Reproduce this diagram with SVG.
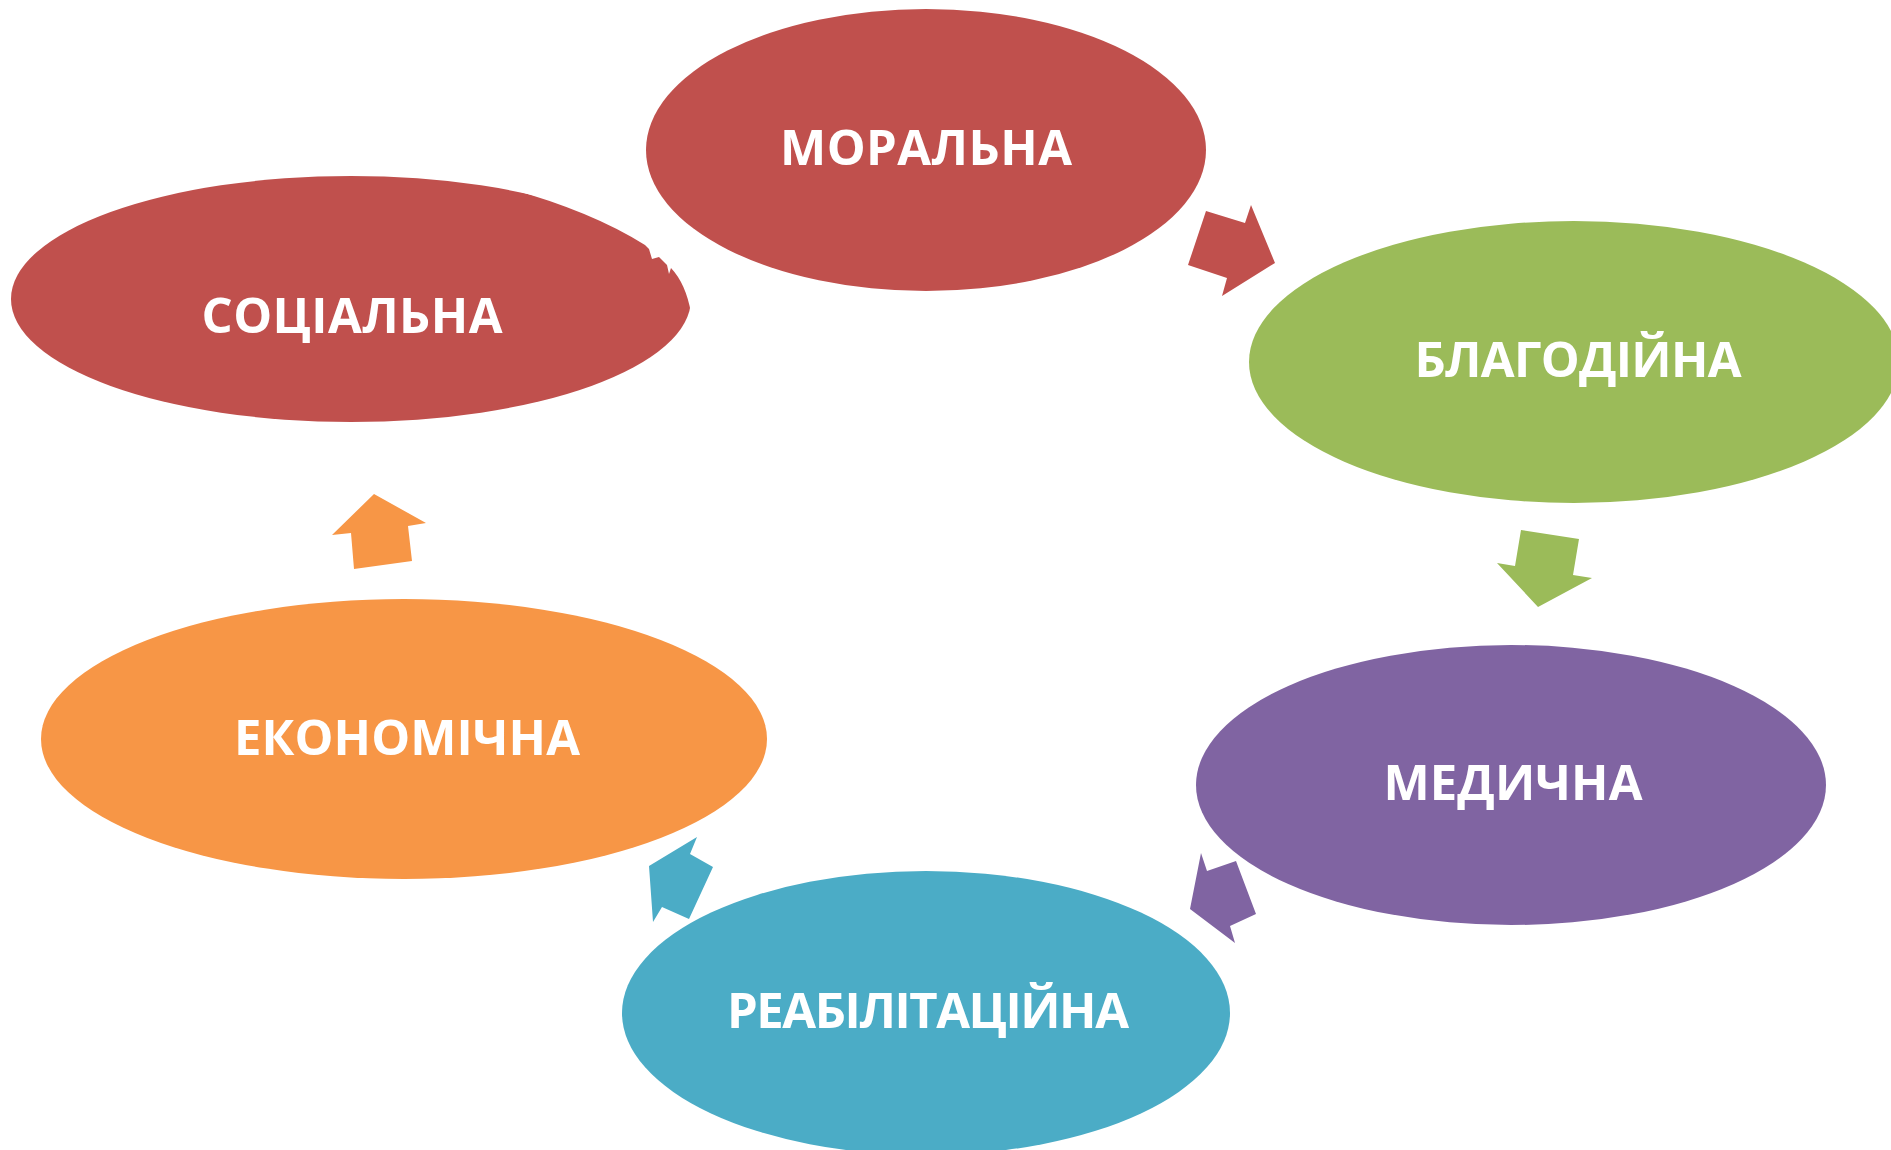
<svg xmlns="http://www.w3.org/2000/svg" width="1891" height="1150" viewBox="0 0 1891 1150">
<style>
.lbl{font-family:"Open Sans","Liberation Sans",sans-serif;font-weight:bold;font-size:49px;fill:#fff;text-anchor:middle}
.red{fill:#C0504D}.green{fill:#9BBB59}.purple{fill:#8064A2}.teal{fill:#4BACC6}.orange{fill:#F79646}
</style>
<rect width="1891" height="1150" fill="#fff"/>
<g id="connectors">
<polygon class="red" points="1206,211 1245,223 1251,205 1275,263 1222,296 1227,278 1188,265"/>
<polygon class="green" points="1521,530 1579,539 1573,575 1592,578 1538,607 1497,563 1515,566"/>
<polygon class="purple" points="1201,853 1207,871 1236,861 1256,914 1230,926 1235,943 1190,909"/>
<polygon class="teal" points="697,837 690,854 713,867 689,919 662,907 653,922 649,866"/>
<polygon class="orange" points="374,494 426,523 408,526 412,561 354,569 351,533 332,535"/>
</g>
<g id="sotsialna">
<ellipse class="red" cx="351" cy="299" rx="340" ry="123"/>
<path fill="#fff" d="M500,175 L500,186 Q590,210 645,245 L649,249 L652,259 L659,257 L667,265 L669,274 L671,268 Q686,284 691,313 L700,313 L700,175 Z"/>
<text class="lbl" x="352" y="333" textLength="301" lengthAdjust="spacing">СОЦІАЛЬНА</text>
</g>
<g id="moralna">
<ellipse class="red" cx="926" cy="150" rx="280" ry="141"/>
<text class="lbl" x="926" y="165" textLength="292" lengthAdjust="spacing">МОРАЛЬНА</text>
</g>
<g id="blahodiina">
<ellipse class="green" cx="1574" cy="362" rx="325" ry="141"/>
<text class="lbl" x="1578" y="377" textLength="327" lengthAdjust="spacing">БЛАГОДІЙНА</text>
</g>
<g id="medychna">
<ellipse class="purple" cx="1511" cy="785" rx="315" ry="140"/>
<text class="lbl" x="1513" y="800" textLength="259" lengthAdjust="spacing">МЕДИЧНА</text>
</g>
<g id="reabilitatsiina">
<ellipse class="teal" cx="926" cy="1013" rx="304" ry="142"/>
<text class="lbl" x="928" y="1028" textLength="402" lengthAdjust="spacing">РЕАБІЛІТАЦІЙНА</text>
</g>
<g id="ekonomichna">
<ellipse class="orange" cx="404" cy="739" rx="363" ry="140"/>
<text class="lbl" x="407" y="755" textLength="346" lengthAdjust="spacing">ЕКОНОМІЧНА</text>
</g>
</svg>
